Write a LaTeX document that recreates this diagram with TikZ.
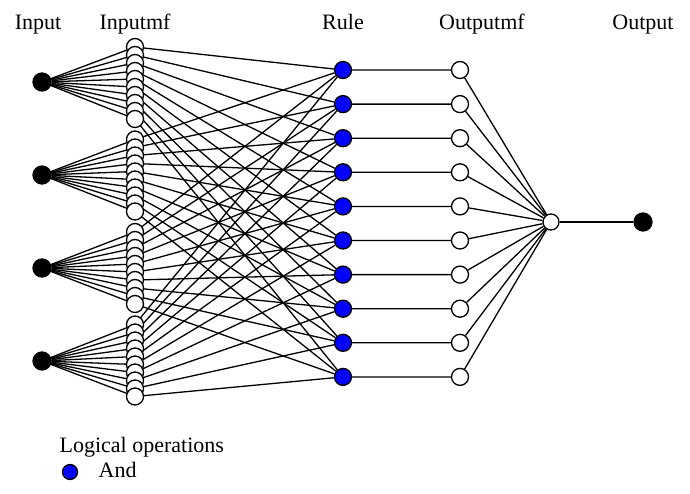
\documentclass[tikz,border=0pt]{standalone}
\usepackage{fontspec}
\setmainfont{Liberation Serif}
\usetikzlibrary{backgrounds}

\begin{document}
\begin{tikzpicture}[x=1pt,y=-1pt,line width=1.3pt,
  ionode/.style={circle,draw,fill=black,inner sep=0pt,minimum size=18pt},
  mfnode/.style={circle,draw,fill=white,inner sep=0pt,minimum size=17pt},
  rulenode/.style={circle,draw,fill=blue,inner sep=0pt,minimum size=17pt},
  wire/.style={line width=1.3pt},
  title/.style={font=\fontsize{22}{26}\selectfont,anchor=base,inner sep=0pt}]
\useasboundingbox (0,0) rectangle (690,493);
\foreach \g in {1,...,4}{
  \node[ionode] (in\g) at (42,{82+93*(\g-1)}) {};
  \foreach \m in {1,...,10}
    \node[mfnode] (mf\g-\m) at (135,{47+92.5*(\g-1)+8*(\m-1)}) {};
}
\foreach \r in {1,...,10}{
  \node[rulenode] (rule\r) at (343,{70+34.1*(\r-1)}) {};
  \node[mfnode] (omf\r) at (460,{70+34.1*(\r-1)}) {};
}
\node[mfnode,minimum size=16pt] (sum) at (551,222) {};
\node[ionode] (out) at (643,222) {};
\begin{scope}[on background layer]
\foreach \g in {1,...,4}\foreach \m in {1,...,10}{
  \draw[wire] (in\g) -- (mf\g-\m.center);
  \draw[wire] (mf\g-\m.center) -- (rule\m);
}
\foreach \r in {1,...,10}\draw[wire] (rule\r) -- (omf\r) -- (sum);
\draw[wire] (sum) -- (out);
\end{scope}
\node[title] (tin) at (38,29) {Input};
\node[title] (tmf) at (135,29) {Inputmf};
\node[title] (trule) at (343,29) {Rule};
\node[title] (tomf) at (482,29) {Outputmf};
\node[title] (tout) at (643,29) {Output};
\node[title,anchor=base west] (leg) at (59,452) {Logical operations};
\node[rulenode,minimum size=15pt] (legdot) at (70,472) {};
\node[title,anchor=base west] (legand) at (98,477) {And};
\end{tikzpicture}
\end{document}
